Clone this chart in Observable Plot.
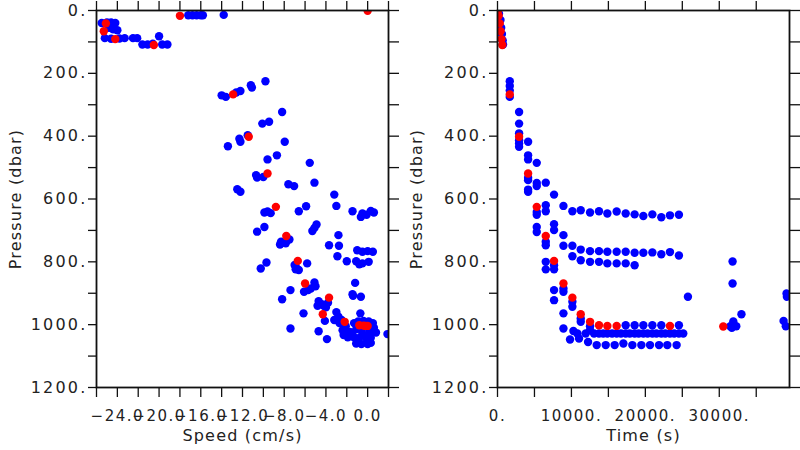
<!DOCTYPE html>
<html><head><meta charset="utf-8">
<script src="https://cdn.jsdelivr.net/npm/d3@7"></script>
<script src="https://cdn.jsdelivr.net/npm/@observablehq/plot@0.6"></script>
<style>
body{margin:0;background:#fff;}
#wrap{display:flex;width:800px;height:450px;overflow:hidden;}
#wrap svg{flex:none;}
</style></head><body><div id="wrap"></div>
<script>
// ---- data ----
const pressureLabelTicks = [0, 200, 400, 600, 800, 1000, 1200];
const pressureMinorTicks = [0, 100, 200, 300, 400, 500, 600, 700, 800, 900, 1000, 1100, 1200];
const speedDomain = [-26, 2];
const speedMinorTicks = [-26, -24, -22, -20, -18, -16, -14, -12, -10, -8, -6, -4, -2, 0, 2];
const speedLabelTicks = [-24, -20, -16, -12, -8, -4, 0];
const timeDomain = [0, 39500];
const timeMinorTicks = [0, 5000, 10000, 15000, 20000, 25000, 30000, 35000];
const timeLabelTicks = [0, 10000, 20000, 30000];

// [speed cm/s, pressure dbar]
const speedPressureBlue = [
[-25.5,40],[-25.0,38],[-24.6,38],[-24.2,40],[-24.8,55],[-24.4,60],[-24.0,63],[-25.2,88],[-24.6,90],[-23.8,89],[-23.3,88],[-22.5,88],[-22.1,88],[-21.6,108],[-21.1,108],[-20.6,106],[-20.0,82],[-19.7,108],[-19.2,108],
[-17.2,15],[-16.8,15],[-16.4,15],[-16.0,15],[-15.8,15],[-13.8,14],
[-14.0,270],[-13.6,275],[-12.6,261],[-12.2,256],[-11.2,238],[-11.1,245],[-9.8,225],
[-8.2,323],[-10.1,360],[-9.45,354],
[-13.4,432],[-12.3,408],[-12.2,418],[-11.5,397],[-7.95,418],
[-9.6,474],[-8.7,461],[-5.55,485],
[-10.7,524],[-10.6,532],[-10.0,530],[-7.6,553],[-7.05,559],[-5.1,548],[-12.5,569],[-12.2,577],[-3.2,586],
[-3.0,622],[-5.9,623],
[-9.9,643],[-9.6,640],[-9.3,645],[-6.6,639],[-1.45,639],[-0.5,646],[-0.65,657],[0.3,638],[0.6,643],[-0.1,650],
[-4.9,681],[-5.3,702],[-10.6,704],[-9.9,689],[-5.1,692],
[-8.3,736],[-7.85,741],[-7.5,729],[-8.4,745],[-2.8,715],[-3.7,747],[-2.75,749],[-2.9,782],[-2.0,798],
[-1.0,763],[-0.5,768],[0.0,766],[0.5,768],[-1.1,798],[-0.5,805],[0.1,800],[-0.8,808],
[-5.8,805],[-9.7,802],[-10.25,821],[-6.9,824],[-6.6,826],[-6.9,815],[-7.0,810],
[-5.1,866],[-5.45,885],[-5.0,878],[-5.7,890],[-6.1,895],[-7.4,890],[-1.2,867],[-1.45,903],[-1.4,908],[-0.65,911],[-8.2,919],
[-4.7,925],[-4.4,935],[-4.0,945],[-4.8,940],[-4.2,940],[-3.8,930],
[-6.15,964],[-4.1,988],[-7.4,1012],[-4.7,1021],[-3.9,1046],[-0.7,964],
[-3.0,960],[-2.8,975],[-2.5,985],[-3.2,985],[-2.7,995],[-2.3,1000],[-2.1,1005],[-2.3,1033],[-1.9,1040],
[-1.3,995],[-0.9,990],[-0.4,988],[0.1,990],[0.5,995],[-1.1,1015],[-0.6,1015],[0.1,1012],[0.6,1010],
[-1.3,1040],[-0.8,1042],[-0.1,1045],[0.3,1042],[-1.5,1030],[-0.5,1028],[0.2,1028],[0.8,1025],
[-1.1,1060],[-0.6,1062],[0.0,1062],[0.3,1058],[1.9,1030],[-2.4,1018],[-1.7,1023],[-0.9,1050],[0.4,1000]
];
const speedPressureRed = [
[-25.1,41],[-25.3,66],[-24.2,91],[-20.5,110],[-18.0,17],[0.0,1],[-12.9,267],[-11.4,402],[-9.6,519],[-8.8,625],
[-7.8,718],[-6.7,797],[-6.0,869],[-3.7,914],[-4.3,967],[-2.2,991],[-0.8,1002],[-0.4,1003],[-0.2,1004],[0.0,1004]
];

// [time s, pressure dbar]
const timePressureBlue = [
[200,10],[400,30],[500,55],[600,75],[700,95],[750,108],
[1660,225],[1660,240],[1660,255],[1660,275],
[2920,323],[2920,360],[2920,391],[2920,413],[2920,423],[2920,434],
[4140,418],[4140,461],[4140,474],[4140,532],[4140,540],[4140,570],[4140,577],
[5310,485],[5310,549],[5310,559],[5310,641],[5310,650],[5310,689],[5310,705],
[6530,548],[6530,620],[6530,639],[6530,736],[6530,747],[6530,800],[6530,824],
[7650,586],[7650,680],[7650,699],[7650,811],[7650,824],[7650,890],[7650,922],
[8920,622],[8920,715],[8920,749],[8920,885],[8920,895],[8920,964],[8920,1012],
[10130,639],[10130,749],[10130,782],[10130,927],[10130,943],[10270,1020],[9810,1047],
[11260,636],[11260,761],[11260,795],[11260,980],[11260,991],[11030,1044],[10810,1028],
[12520,643],[12520,766],[12520,800],[12520,1005],[12520,1018],[11930,1028],[12250,1055],
[13730,639],[13730,766],[13730,800],[13730,1028],[13060,1028],[13420,1065],
[14860,646],[14860,768],[14860,805],[14860,1028],[14300,1028],[14640,1065],
[16120,640],[16120,768],[16120,805],[16120,1028],[15500,1028],[15850,1065],
[17340,646],[17340,768],[17340,805],[17340,1002],[17340,1028],[16700,1028],[17030,1060],
[18550,649],[18550,771],[18550,811],[18550,1002],[18550,1028],[17900,1028],[18240,1065],
[19730,654],[19730,771],[19730,1002],[19730,1028],[19100,1028],[19460,1065],
[20950,649],[20950,770],[20950,1002],[20950,1028],[20300,1028],[20630,1065],
[22160,658],[22160,776],[22160,1002],[22160,1028],[21500,1028],[21850,1065],
[23330,652],[23330,769],[23330,1028],[22700,1028],[22970,1065],
[24540,650],[24540,780],[24540,1002],[24540,1028],[23900,1028],[25130,1028],[24230,1065],
[25760,911],
[31800,799],[31800,869],[33000,967],[31500,1005],[31900,990],[32300,1005],[31700,1010],
[39100,901],[39150,911],[38700,988],[39000,1005]
];
const timePressureRed = [
[50,1],[150,17],[300,41],[420,66],[540,91],[650,110],[1660,267],[2920,402],[4140,519],[5310,625],[6530,718],
[7650,797],[8920,869],[10130,914],[11260,967],[12520,991],[13730,1002],[14860,1004],[16120,1004],[23330,1004],[30540,1006]
];

const fmtSpeed = d => (d < 0 ? "\u2212" : "") + Math.abs(d).toFixed(1);
const fmtPlain = d => d + ".";

function panel({xDomain, xMinor, xLabels, xFormat, xTitle, blue, red, ml, mr}) {
  const svg = Plot.plot({
    width: 400, height: 450,
    marginLeft: ml, marginRight: mr, marginTop: 10, marginBottom: 63,
    x: {domain: xDomain},
    y: {domain: [0, 1200], reverse: true},
    style: {fontFamily: "DejaVu Sans", background: "white", color: "#222"},
    marks: [
      Plot.dot(blue, {x: d => d[0], y: d => d[1], r: 4.2, fill: "#0000ff", clip: true}),
      Plot.dot(red, {x: d => d[0], y: d => d[1], r: 4.2, fill: "#ff0000", clip: true}),
      Plot.frame({stroke: "#111", strokeWidth: 1.8}),
      Plot.axisX({anchor: "bottom", ticks: xMinor, tickSize: 10, tickFormat: () => "", label: null, strokeWidth: 1.3, stroke: "#111"}),
      Plot.axisX({anchor: "top", ticks: xMinor, tickSize: 10, tickFormat: () => "", label: null, strokeWidth: 1.3, stroke: "#111"}),
      Plot.axisX({anchor: "bottom", ticks: xLabels, tickSize: 0, tickPadding: 23, tickFormat: xFormat, label: null, fontSize: 15}),
      Plot.axisY({anchor: "left", ticks: pressureMinorTicks, tickSize: 8, tickFormat: () => "", label: null, strokeWidth: 1.3, stroke: "#111"}),
      Plot.axisY({anchor: "right", ticks: pressureMinorTicks, tickSize: 10, tickFormat: () => "", label: null, strokeWidth: 1.3, stroke: "#111"}),
      Plot.axisY({anchor: "left", ticks: pressureLabelTicks, tickSize: 0, tickPadding: 9, tickFormat: fmtPlain, label: null, fontSize: 16}),
      Plot.text([xTitle], {frameAnchor: "bottom", dy: 53, fontSize: 16, fill: "#222", textAnchor: "middle"}),
      Plot.text(["Pressure (dbar)"], {frameAnchor: "left", dx: -81, rotate: -90, fontSize: 16, fill: "#222", textAnchor: "middle"})
    ]
  });
  const s = d3.select(svg);
  s.selectAll('g[aria-label="x-axis tick label"] text').style("letter-spacing", "1.5px");
  s.selectAll('g[aria-label="y-axis tick label"] text').style("letter-spacing", "2.2px");
  s.selectAll('g[aria-label="text"] text').style("letter-spacing", "1.2px");
  return svg;
}

const wrap = document.getElementById("wrap");
wrap.appendChild(panel({xDomain: speedDomain, xMinor: speedMinorTicks, xLabels: speedLabelTicks, xFormat: fmtSpeed,
  xTitle: "Speed (cm/s)", blue: speedPressureBlue, red: speedPressureRed, ml: 96, mr: 12}));
wrap.appendChild(panel({xDomain: timeDomain, xMinor: timeMinorTicks, xLabels: timeLabelTicks, xFormat: fmtPlain,
  xTitle: "Time (s)", blue: timePressureBlue, red: timePressureRed, ml: 97, mr: 11}));
</script></body></html>
